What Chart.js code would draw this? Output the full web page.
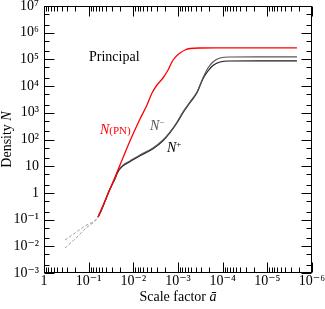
<!DOCTYPE html>
<html><head><meta charset="utf-8">
<script src="https://cdn.jsdelivr.net/npm/chart.js@4"></script>
<style>html,body{margin:0;padding:0;background:#fff}</style>
</head><body>
<canvas id="c" width="325" height="309"></canvas>
<script>
// ---- data ----
const redScale   = [0.0618, 0.0333, 0.0199, 0.0119, 0.0071, 0.00494, 0.00382, 0.00295, 0.00217, 0.00167, 0.00129, 0.0009, 0.000697, 0.000539, 0.000322, 0.0001, 0.00001, 0.00000217];
const redDensity = [0.125, 1.40, 11.1, 87.7, 586, 1960, 5520, 11000, 20100, 40100, 95000, 174000, 225000, 256000, 267000, 268000, 268000, 268000];

const minusScale   = [0.339, 0.202, 0.121, 0.0618, 0.0333, 0.0257, 0.0226, 0.0199, 0.0170, 0.0119, 0.0071, 0.00363, 0.00217, 0.00151, 0.00105, 0.000773, 0.000539, 0.000376, 0.000276, 0.000213, 0.000165, 0.000115, 0.0000686, 0.00001, 0.00000217];
const minusDensity = [0.0172, 0.0315, 0.0575, 0.125, 1.40, 3.5, 6.0, 8.4, 11.0, 15.7, 26.2, 48, 95.7, 191, 452, 1071, 2535, 6010, 20100, 47600, 80000, 113000, 123000, 124000, 124000];

const plusScale   = [0.339, 0.202, 0.121, 0.0618, 0.0333, 0.0257, 0.0226, 0.0199, 0.0170, 0.0119, 0.0071, 0.00363, 0.00217, 0.00151, 0.00105, 0.000773, 0.000539, 0.000376, 0.000276, 0.000213, 0.000165, 0.000115, 0.0000686, 0.00001, 0.00000217];
const plusDensity = [0.00863, 0.0188, 0.0445, 0.125, 1.40, 3.4, 5.7, 8.0, 10.4, 14.8, 24.6, 45, 90, 180, 425, 1010, 2390, 5650, 19000, 36800, 59200, 80000, 87000, 88000, 88000];

const dashEnd = 0.06; // early (dashed) part of the N- / N+ curves

const xTickValues = [1, 1e-1, 1e-2, 1e-3, 1e-4, 1e-5, 1e-6];
const xTickLabels = ['1', '10⁻¹', '10⁻²', '10⁻³', '10⁻⁴', '10⁻⁵', '10⁻⁶'];
const yTickValues = [1e7, 1e6, 1e5, 1e4, 1e3, 1e2, 10, 1, 1e-1, 1e-2, 1e-3];
const yTickLabels = ['10⁷', '10⁶', '10⁵', '10⁴', '10³', '10²', '10', '1', '10⁻¹', '10⁻²', '10⁻³'];

const SERIF = "'Liberation Serif', 'DejaVu Serif', serif";
const pts = (xs, ys) => xs.map((v, i) => ({x: v, y: ys[i]}));

function mixedText(ctx, parts, x, y, align) {
  let w = 0;
  parts.forEach(p => { ctx.font = p[1]; w += ctx.measureText(p[0]).width; });
  let cx = align === 'center' ? x - w / 2 : x;
  parts.forEach(p => {
    ctx.font = p[1]; ctx.fillStyle = p[2];
    ctx.fillText(p[0], cx, y + (p[3] || 0));
    cx += ctx.measureText(p[0]).width;
  });
}

const framePlugin = {
  id: 'frameTicks',
  afterDatasetsDraw(chart) {
    const {ctx, chartArea: a, scales: {x, y}} = chart;
    ctx.save();
    ctx.strokeStyle = '#000';
    ctx.lineWidth = 1;
    const L = Math.round(a.left) + 0.5, R = Math.round(a.right) - 0.5;
    const T = Math.round(a.top) + 0.5, B = Math.round(a.bottom) - 0.5;
    ctx.strokeRect(L, T, R - L, B - T);
    ctx.beginPath();
    const MAJ = 10, MIN = 5;
    const xt = (v, len) => {
      const p = Math.round(x.getPixelForValue(v)) + 0.5;
      ctx.moveTo(p, B); ctx.lineTo(p, B - len);
      ctx.moveTo(p, T); ctx.lineTo(p, T + len);
    };
    const yt = (v, len) => {
      const p = Math.round(y.getPixelForValue(v)) + 0.5;
      ctx.moveTo(L, p); ctx.lineTo(L + len, p);
      ctx.moveTo(R, p); ctx.lineTo(R - len, p);
    };
    for (let e = 0; e >= -6; e--) {
      const d = Math.pow(10, e);
      xt(d, MAJ);
      if (e > -6) for (let k = 2; k <= 9; k++) xt(k * d / 10, MIN);
    }
    for (let e = -3; e <= 7; e++) {
      const d = Math.pow(10, e);
      yt(d, MAJ);
      if (e < 7) { yt(2 * d, MIN); yt(5 * d, MIN); }
    }
    ctx.stroke();

    ctx.textBaseline = 'alphabetic';
    ctx.textAlign = 'left';
    const cx = (a.left + a.right) / 2;
    mixedText(ctx, [['Scale factor ', '14px ' + SERIF, '#000'], ['ā', 'italic 14px ' + SERIF, '#000']], cx, 301, 'center');
    ctx.save();
    ctx.translate(11, (a.top + a.bottom) / 2);
    ctx.rotate(-Math.PI / 2);
    mixedText(ctx, [['Density ', '14px ' + SERIF, '#000'], ['N', 'italic 14px ' + SERIF, '#000']], 0, 0, 'center');
    ctx.restore();

    mixedText(ctx, [['Principal', '14px ' + SERIF, '#000']], 89, 61, 'left');
    mixedText(ctx, [['N', 'italic 14px ' + SERIF, '#ff0000'], ['(PN)', '11px ' + SERIF, '#ff0000']], 100, 133.5, 'left');
    mixedText(ctx, [['N', 'italic 14px ' + SERIF, '#555'], ['−', '9px ' + SERIF, '#555', -5]], 150, 130, 'left');
    mixedText(ctx, [['N', 'italic 14px ' + SERIF, '#000'], ['+', '9px ' + SERIF, '#000', -5]], 167, 152, 'left');
    ctx.restore();
  }
};

new Chart(document.getElementById('c'), {
  type: 'line',
  data: {
    datasets: [
      {label: 'N(PN)', data: pts(redScale, redDensity), borderColor: '#ff0000', borderWidth: 1.3, pointRadius: 0, cubicInterpolationMode: 'monotone', fill: false},
      {label: 'N-', data: pts(minusScale, minusDensity), borderColor: '#555', borderWidth: 1.2, pointRadius: 0, cubicInterpolationMode: 'monotone', fill: false,
        segment: {borderDash: c => c.p1.parsed.x >= dashEnd ? [3, 2] : undefined, borderColor: c => c.p1.parsed.x >= dashEnd ? '#888' : undefined, borderWidth: c => c.p1.parsed.x >= dashEnd ? 0.8 : undefined}},
      {label: 'N+', data: pts(plusScale, plusDensity), borderColor: '#1a1a1a', borderWidth: 1.2, pointRadius: 0, cubicInterpolationMode: 'monotone', fill: false,
        segment: {borderDash: c => c.p1.parsed.x >= dashEnd ? [3, 2] : undefined, borderColor: c => c.p1.parsed.x >= dashEnd ? '#888' : undefined, borderWidth: c => c.p1.parsed.x >= dashEnd ? 0.8 : undefined}}
    ]
  },
  options: {
    responsive: false,
    animation: false,
    devicePixelRatio: 1,
    layout: {padding: {top: 6, right: 13, left: 0, bottom: 0}},
    plugins: {legend: {display: false}, tooltip: {enabled: false}},
    scales: {
      x: {
        type: 'logarithmic', position: 'bottom', reverse: true, min: 1e-6, max: 1,
        grid: {display: false, drawTicks: false}, border: {display: false},
        afterBuildTicks: s => { s.ticks = xTickValues.map(v => ({value: v})); },
        afterFit: s => { s.height = 36; s.paddingLeft = 0; s.paddingRight = 0; },
        ticks: {autoSkip: false, maxRotation: 0, padding: 0, color: '#000', font: {family: SERIF, size: 14},
          callback: (v) => { const i = xTickValues.indexOf(v); return i >= 0 ? xTickLabels[i] : ''; }}
      },
      y: {
        type: 'logarithmic', position: 'left', min: 1e-3, max: 1e7,
        grid: {display: false, drawTicks: false}, border: {display: false},
        afterBuildTicks: s => { s.ticks = yTickValues.map(v => ({value: v})); },
        afterFit: s => { s.width = 44; s.paddingTop = 0; s.paddingBottom = 0; },
        ticks: {autoSkip: false, padding: 5, color: '#000', font: {family: SERIF, size: 14},
          callback: (v) => { const i = yTickValues.indexOf(v); return i >= 0 ? yTickLabels[i] : ''; }}
      }
    }
  },
  plugins: [framePlugin]
});
</script>
</body></html>
